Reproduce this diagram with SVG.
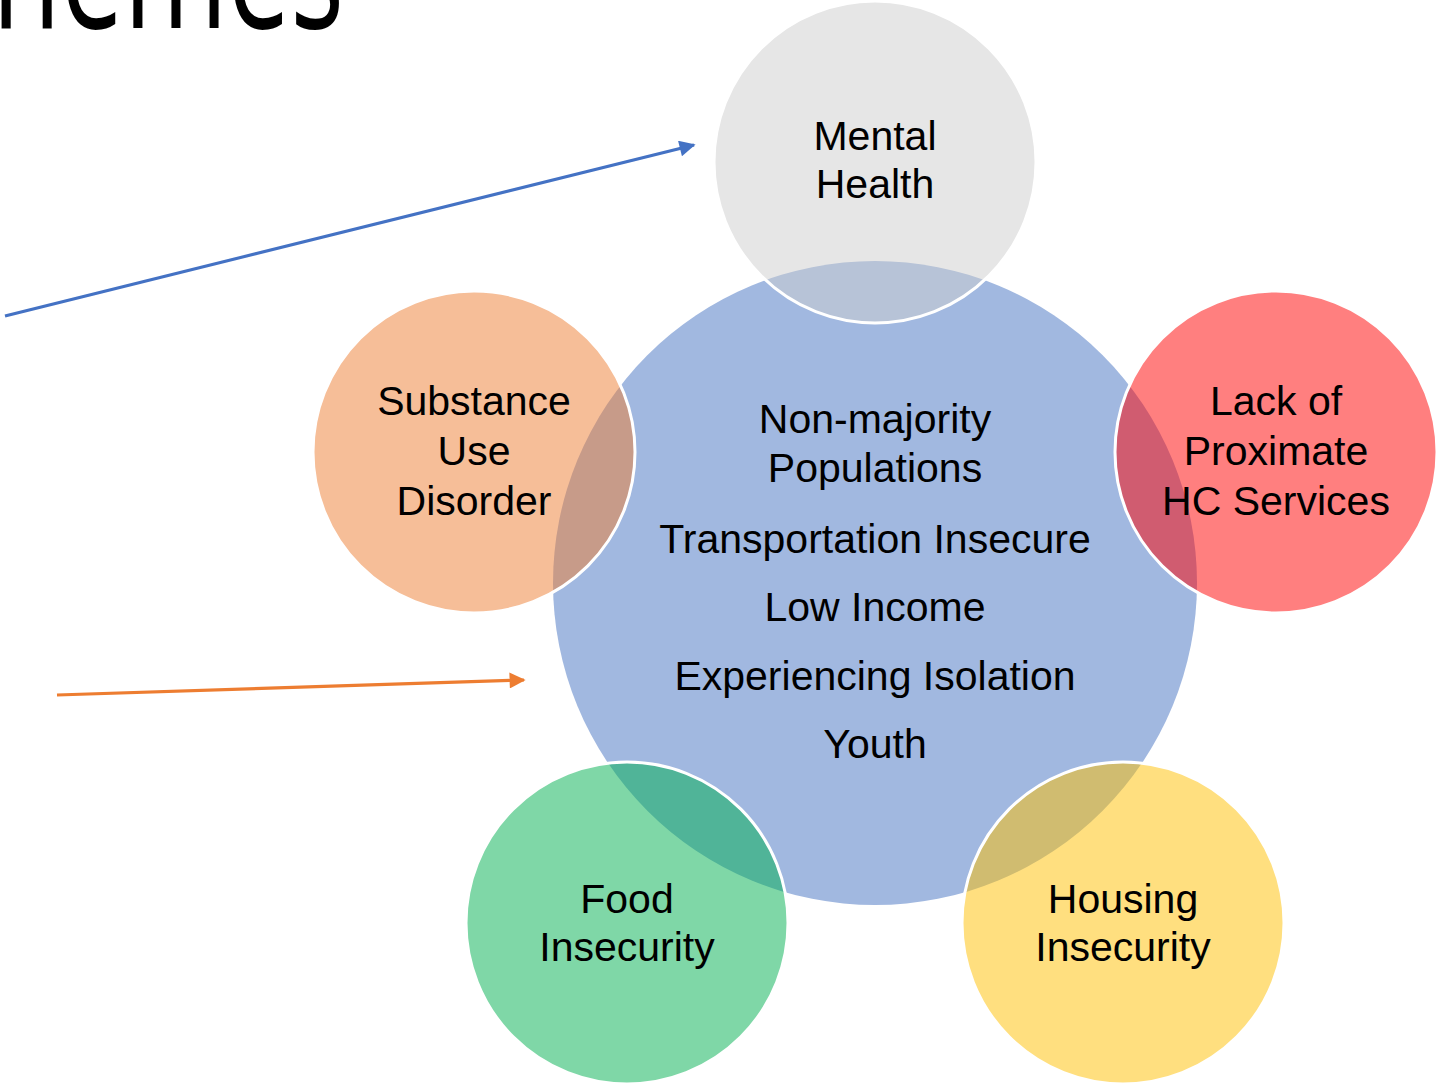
<svg xmlns="http://www.w3.org/2000/svg" width="1440" height="1084" viewBox="0 0 1440 1084">
  <style>
    .lbl { font-family: "Liberation Sans", Arial, sans-serif; font-size: 41px; fill: #000; text-anchor: middle; }
    .title { font-family: "Open Sans", "Liberation Sans", sans-serif; font-weight: 400; font-size: 170px; fill: #000; }
    .sat { stroke: #fff; stroke-width: 3; }
    .conn { fill: none; stroke-width: 3.2; }
  </style>
  <defs>
    <marker id="arrowBlue" viewBox="0 0 10 10" refX="9" refY="5" markerWidth="6" markerHeight="5" orient="auto" markerUnits="strokeWidth">
      <path d="M0,0 L10,5 L0,10 z" fill="#4472C4"/>
    </marker>
    <marker id="arrowOrange" viewBox="0 0 10 10" refX="9" refY="5" markerWidth="6" markerHeight="5" orient="auto" markerUnits="strokeWidth">
      <path d="M0,0 L10,5 L0,10 z" fill="#ED7D31"/>
    </marker>
  </defs>

  <rect width="1440" height="1084" fill="#fff"/>

  <!-- slide title, partly outside the frame -->
  <text class="title" x="-8" y="28" textLength="352" lengthAdjust="spacingAndGlyphs">hemes</text>

  <!-- central hub -->
  <g id="hub">
    <circle cx="875" cy="583" r="322" fill="#A1B8E0"/>
    <text class="lbl" x="875" y="433">Non-majority</text>
    <text class="lbl" x="875" y="482">Populations</text>
    <text class="lbl" x="875" y="553">Transportation Insecure</text>
    <text class="lbl" x="875" y="621">Low Income</text>
    <text class="lbl" x="875" y="690">Experiencing Isolation</text>
    <text class="lbl" x="875" y="758">Youth</text>
  </g>

  <!-- satellites -->
  <g id="mental-health">
    <circle class="sat" cx="875" cy="162" r="161" fill="#CDCDCD" fill-opacity="0.5"/>
    <text class="lbl" x="875" y="150">Mental</text>
    <text class="lbl" x="875" y="198">Health</text>
  </g>
  <g id="substance-use">
    <circle class="sat" cx="474" cy="452" r="161" fill="#ED7D31" fill-opacity="0.5"/>
    <text class="lbl" x="474" y="415">Substance</text>
    <text class="lbl" x="474" y="465">Use</text>
    <text class="lbl" x="474" y="515">Disorder</text>
  </g>
  <g id="hc-services">
    <circle class="sat" cx="1276" cy="452" r="161" fill="#FF0000" fill-opacity="0.5"/>
    <text class="lbl" x="1276" y="415">Lack of</text>
    <text class="lbl" x="1276" y="465">Proximate</text>
    <text class="lbl" x="1276" y="515">HC Services</text>
  </g>
  <g id="food-insecurity">
    <circle class="sat" cx="627" cy="923" r="161" fill="#00B050" fill-opacity="0.5"/>
    <text class="lbl" x="627" y="913">Food</text>
    <text class="lbl" x="627" y="961">Insecurity</text>
  </g>
  <g id="housing-insecurity">
    <circle class="sat" cx="1123" cy="923" r="161" fill="#FFC000" fill-opacity="0.5"/>
    <text class="lbl" x="1123" y="913">Housing</text>
    <text class="lbl" x="1123" y="961">Insecurity</text>
  </g>

  <!-- connectors -->
  <g id="connectors">
    <line class="conn" x1="5" y1="316" x2="694" y2="145" stroke="#4472C4" marker-end="url(#arrowBlue)"/>
    <line class="conn" x1="57" y1="695" x2="524" y2="680" stroke="#ED7D31" marker-end="url(#arrowOrange)"/>
  </g>
</svg>
